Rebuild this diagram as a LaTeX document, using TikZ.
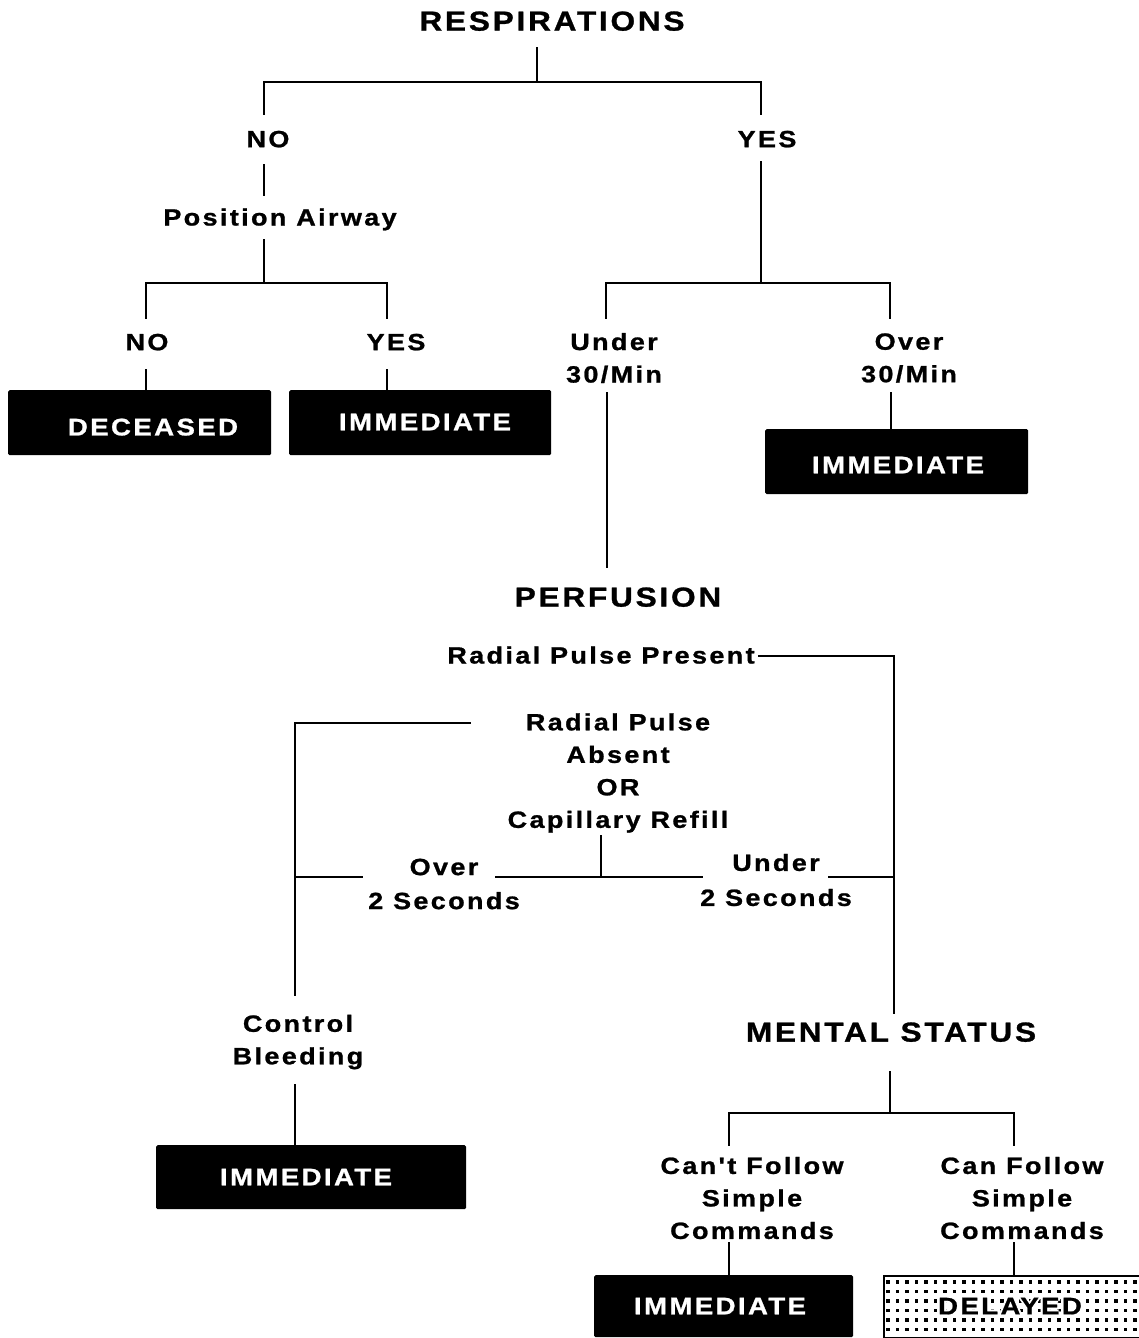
\documentclass[tikz,border=0pt]{standalone}
\usepackage{fontspec}
\setmainfont{Liberation Sans}[LetterSpace=10,FakeStretch=1.15,Ligatures=TeXOff,BoldFeatures={FakeBold=1}]
\newcommand\haloed[1]{\begingroup\color{white}%
  \rlap{\kern-2.2pt #1}\rlap{\kern2.2pt #1}%
  \rlap{\raisebox{2.2pt}{#1}}\rlap{\raisebox{-2.2pt}{#1}}%
  \endgroup#1}
\begin{document}
\begin{tikzpicture}[x=1pt,y=-1pt,
  conn/.style={line width=2.2pt,line cap=rect},
  lbl/.style={font=\bfseries\fontsize{23.5}{32.5}\selectfont,align=center,inner sep=0pt},
  lblone/.style={lbl,text depth=0pt},
  ttl/.style={font=\bfseries\fontsize{27.5}{32}\selectfont,inner sep=0pt,text depth=0pt},
  blk/.style={fill=black,rounded corners=1.5pt,inner sep=0pt,anchor=north west},
  wtxt/.style={font=\bfseries\fontsize{24}{28}\selectfont,text=white,inner sep=0pt,text depth=0pt},
  dtxt/.style={font=\bfseries\fontsize{24}{28}\selectfont,text=black,inner sep=0pt,text depth=0pt}]
\useasboundingbox (0,0) rectangle (1139,1338);
\fill[white] (0,0) rectangle (1139,1338);

% ---------- titles and labels ----------
\node[ttl] (resp) at (552,21) {RESPIRATIONS};
\node[lblone] (no1) at (268,139) {NO};
\node[lblone] (yes1) at (767,139) {YES};
\node[lblone] (posair) at (280,217) {Position Airway};
\node[lblone] (no2) at (147,342) {NO};
\node[lblone] (yes2) at (396,342) {YES};
\node[lbl] (under30) at (614,358) {Under\\30/Min};
\node[lbl] (over30) at (909,358) {Over\\30/Min};
\node[ttl] (perf) at (618,597) {PERFUSION};
\node[lblone] (rpp) at (601,655) {Radial Pulse Present};
\node[lbl] (rpa) at (618,773) {Radial Pulse\\Absent\\OR\\Capillary Refill};
\node[lbl,font=\bfseries\fontsize{23.5}{34}\selectfont] (over2) at (444,884) {Over\\2 Seconds};
\node[lbl,font=\bfseries\fontsize{23.5}{35}\selectfont] (under2) at (776,880) {Under\\2 Seconds};
\node[lbl] (ctrl) at (298,1042) {Control\\Bleeding};
\node[ttl] (mental) at (891,1032) {MENTAL STATUS};
\node[lbl] (cant) at (752,1198) {Can\char"0027t Follow\\Simple\\Commands};
\node[lbl] (can) at (1022,1198) {Can Follow\\Simple\\Commands};

% ---------- black boxes ----------
\node[blk,minimum width=263pt,minimum height=65pt] (decbox) at (8,390) {};
\node[wtxt] (dec) at (153,427) {DECEASED};
\node[blk,minimum width=262pt,minimum height=65pt] (imm1box) at (289,390) {};
\node[wtxt] (imm1) at (425,422) {IMMEDIATE};
\node[blk,minimum width=263pt,minimum height=65pt] (imm2box) at (765,429) {};
\node[wtxt] (imm2) at (898,465) {IMMEDIATE};
\node[blk,minimum width=310pt,minimum height=64pt] (imm3box) at (156,1145) {};
\node[wtxt] (imm3) at (306,1177) {IMMEDIATE};
\node[blk,minimum width=259pt,minimum height=62pt] (imm4box) at (594,1275) {};
\node[wtxt] (imm4) at (720,1306) {IMMEDIATE};

% ---------- delayed (dotted) box ----------
\node[draw=black,line width=2.2pt,fill=white,inner sep=0pt,anchor=north west,
      minimum width=260pt,minimum height=62pt] (delbox) at (883,1275) {};
\begin{scope}
  \clip (885,1277) rectangle (1139,1336);
  \foreach \i in {0,...,27}{
    \foreach \j in {0,...,6}{
      \fill[black] (886+\i*9.5,1280+\j*9.5) rectangle ++(3.6,3.6);
    }
  }
\end{scope}
\node[dtxt] (del) at (1010,1305) {\haloed{DELAYED}};

% ---------- junction coordinates ----------
\coordinate (r0) at (537,48);
\coordinate (rj) at (537,82);
\coordinate (rl) at (264,82);
\coordinate (rr) at (761,82);
\coordinate (nl) at (264,114);
\coordinate (yr) at (761,114);
\coordinate (n1b) at (264,165);
\coordinate (pa0) at (264,195);
\coordinate (pa1) at (264,240);
\coordinate (pj) at (264,283);
\coordinate (pl) at (146,283);
\coordinate (pr) at (387,283);
\coordinate (plb) at (146,318);
\coordinate (prb) at (387,318);
\coordinate (n2b) at (146,370);
\coordinate (y2b) at (387,370);
\coordinate (y1b) at (761,162);
\coordinate (yj) at (761,283);
\coordinate (ul) at (606,283);
\coordinate (ur) at (890,283);
\coordinate (ulb) at (606,318);
\coordinate (urb) at (890,318);
\coordinate (u30b) at (607,393);
\coordinate (pfa) at (607,567);
\coordinate (o30b) at (891,393);
\coordinate (rppe) at (759,656);
\coordinate (rppc) at (894,656);
\coordinate (msa) at (894,1013);
\coordinate (rpal) at (470,723);
\coordinate (lc) at (295,723);
\coordinate (ctop) at (295,995);
\coordinate (cbot) at (295,1085);
\coordinate (crb) at (601,836);
\coordinate (cj) at (601,877);
\coordinate (cjl) at (496,877);
\coordinate (cjr) at (702,877);
\coordinate (lo) at (295,877);
\coordinate (loe) at (362,877);
\coordinate (ru) at (829,877);
\coordinate (ruc) at (894,877);
\coordinate (ms0) at (890,1072);
\coordinate (msj) at (890,1113);
\coordinate (msl) at (729,1113);
\coordinate (msr) at (1014,1113);
\coordinate (mslb) at (729,1145);
\coordinate (msrb) at (1014,1145);
\coordinate (cantb) at (729,1243);
\coordinate (canb) at (1014,1243);

% ---------- connectors ----------
\draw[conn] (r0) -- (rj);
\draw[conn] (rl) -- (rr);
\draw[conn] (rl) -- (nl);
\draw[conn] (rr) -- (yr);
\draw[conn] (n1b) -- (pa0);
\draw[conn] (pa1) -- (pj);
\draw[conn] (pl) -- (pr);
\draw[conn] (pl) -- (plb);
\draw[conn] (pr) -- (prb);
\draw[conn] (n2b) -- (n2b |- decbox.north);
\draw[conn] (y2b) -- (y2b |- imm1box.north);
\draw[conn] (y1b) -- (yj);
\draw[conn] (ul) -- (ur);
\draw[conn] (ul) -- (ulb);
\draw[conn] (ur) -- (urb);
\draw[conn] (u30b) -- (pfa);
\draw[conn] (o30b) -- (o30b |- imm2box.north);
\draw[conn] (rppe) -- (rppc) -- (msa);
\draw[conn] (rpal) -- (lc) -- (ctop);
\draw[conn] (cbot) -- (cbot |- imm3box.north);
\draw[conn] (crb) -- (cj);
\draw[conn] (cjl) -- (cjr);
\draw[conn] (lo) -- (loe);
\draw[conn] (ru) -- (ruc);
\draw[conn] (ms0) -- (msj);
\draw[conn] (msl) -- (msr);
\draw[conn] (msl) -- (mslb);
\draw[conn] (msr) -- (msrb);
\draw[conn] (cantb) -- (cantb |- imm4box.north);
\draw[conn] (canb) -- (canb |- delbox.north);
\end{tikzpicture}
\end{document}
